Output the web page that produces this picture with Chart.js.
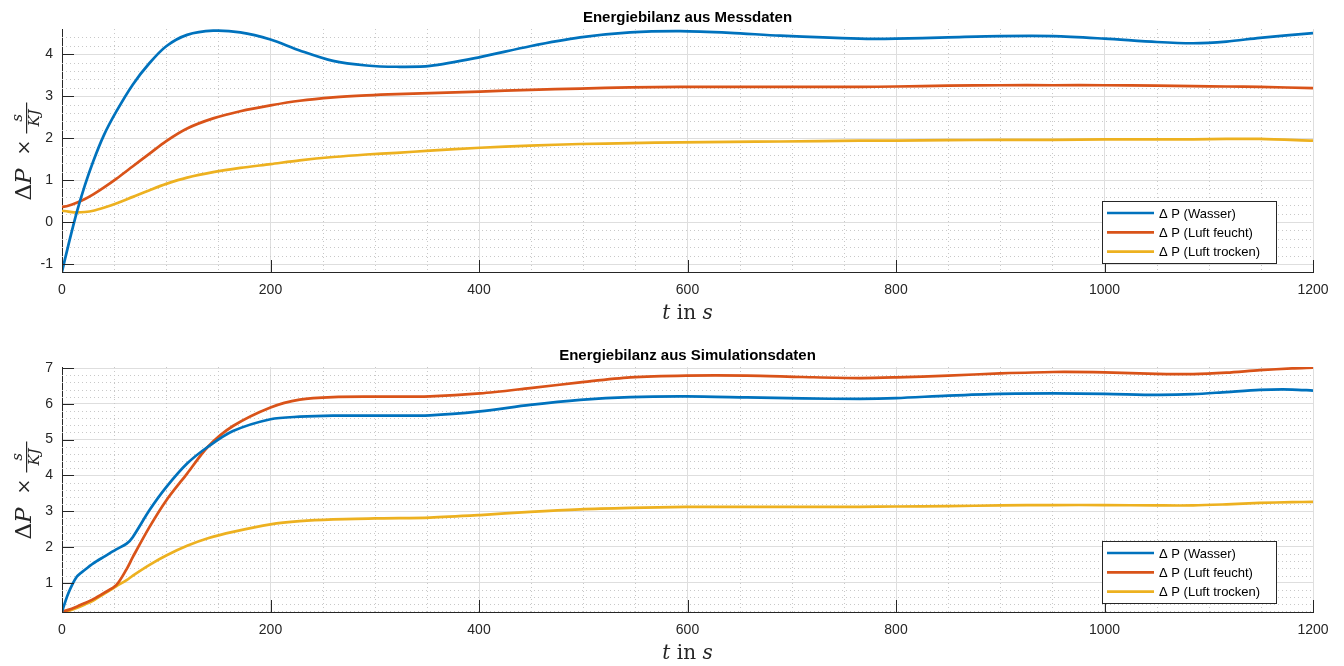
<!DOCTYPE html>
<html>
<head>
<meta charset="utf-8">
<script src="https://cdn.jsdelivr.net/npm/chart.js@4/dist/chart.umd.min.js"></script>
<style>
  html, body { margin: 0; padding: 0; background: #fff; }
  .box { position: absolute; left: 0; width: 1344px; height: 333px; }
</style>
</head>
<body>
<div class="box" style="top:0"><canvas id="chartMess" width="1344" height="333"></canvas></div>
<div class="box" style="top:333px"><canvas id="chartSim" width="1344" height="333"></canvas></div>
<script>
// Messdaten (oben)
const timeMess = [0, 6, 14, 22, 30, 40, 52, 68, 84, 100, 120, 145, 171, 200, 228, 260, 292, 321, 353, 401, 449, 497, 545, 593, 641, 689, 765, 800, 850, 900, 951, 1000, 1050, 1085, 1117, 1149, 1200];
const wasserMess = [-1.18, -0.56, 0.22, 0.88, 1.45, 2.06, 2.63, 3.28, 3.79, 4.19, 4.46, 4.56, 4.52, 4.35, 4.09, 3.84, 3.73, 3.70, 3.72, 3.93, 4.19, 4.40, 4.52, 4.55, 4.51, 4.44, 4.37, 4.37, 4.40, 4.43, 4.43, 4.37, 4.29, 4.26, 4.30, 4.39, 4.50];
const feuchtMess = [0.36, 0.39, 0.46, 0.55, 0.66, 0.82, 1.03, 1.33, 1.63, 1.93, 2.23, 2.47, 2.64, 2.78, 2.89, 2.97, 3.02, 3.05, 3.07, 3.11, 3.15, 3.18, 3.21, 3.22, 3.22, 3.22, 3.22, 3.23, 3.25, 3.26, 3.26, 3.26, 3.25, 3.24, 3.23, 3.22, 3.19];
const trockenMess = [0.27, 0.25, 0.23, 0.24, 0.27, 0.34, 0.44, 0.60, 0.76, 0.91, 1.06, 1.19, 1.29, 1.38, 1.47, 1.55, 1.61, 1.65, 1.70, 1.77, 1.82, 1.86, 1.88, 1.90, 1.91, 1.92, 1.94, 1.94, 1.95, 1.96, 1.96, 1.97, 1.97, 1.97, 1.98, 1.98, 1.94];

// Simulationsdaten (unten)
const timeSim = [0, 6, 14, 22, 30, 40, 52, 62, 68, 84, 100, 120, 140, 164, 200, 228, 260, 305, 353, 401, 449, 497, 545, 599, 657, 710, 765, 800, 850, 900, 951, 1000, 1050, 1085, 1117, 1149, 1180, 1200];
const wasserSim = [0.19, 0.70, 1.16, 1.36, 1.54, 1.72, 1.93, 2.09, 2.28, 3.03, 3.67, 4.33, 4.80, 5.24, 5.57, 5.64, 5.67, 5.67, 5.68, 5.79, 5.97, 6.11, 6.19, 6.21, 6.18, 6.15, 6.14, 6.16, 6.23, 6.28, 6.29, 6.28, 6.25, 6.27, 6.33, 6.39, 6.40, 6.37];
const feuchtSim = [0.19, 0.24, 0.33, 0.43, 0.54, 0.71, 0.93, 1.38, 1.72, 2.56, 3.30, 4.05, 4.80, 5.38, 5.90, 6.12, 6.19, 6.20, 6.21, 6.29, 6.44, 6.60, 6.74, 6.79, 6.79, 6.75, 6.72, 6.74, 6.79, 6.85, 6.89, 6.88, 6.84, 6.83, 6.87, 6.94, 6.99, 7.01];
const trockenSim = [0.17, 0.21, 0.29, 0.39, 0.50, 0.68, 0.90, 1.07, 1.20, 1.50, 1.76, 2.03, 2.24, 2.42, 2.63, 2.72, 2.77, 2.80, 2.82, 2.89, 2.98, 3.05, 3.09, 3.12, 3.12, 3.12, 3.12, 3.13, 3.14, 3.16, 3.17, 3.17, 3.16, 3.16, 3.19, 3.23, 3.25, 3.26];

const seriesLabels = ['\u0394 P (Wasser)', '\u0394 P (Luft feucht)', '\u0394 P (Luft trocken)'];
const seriesColors = ['#0072BD', '#D95319', '#EDB120'];
const xTicks = [0, 200, 400, 600, 800, 1000, 1200];
const yTicksMess = [-1, 0, 1, 2, 3, 4];
const yTicksSim = [1, 2, 3, 4, 5, 6, 7];

const axisColor = '#262626';

// Nebengitter, Achsenstriche, Legende, Titel und Achsenbeschriftungen
const matlabLook = {
    id: 'matlabLook',
    beforeDatasetsDraw(chart, args, opts) {
        const { ctx, chartArea: a, scales: { x, y } } = chart;
        ctx.save();
        ctx.strokeStyle = '#c8c8c8';
        ctx.lineWidth = 1;
        ctx.setLineDash([1, 3]);
        for (let t = x.min; t <= x.max; t += 50) {
            if (t % 200 === 0) continue;
            const px = Math.round(x.getPixelForValue(t)) + 0.5;
            ctx.beginPath(); ctx.moveTo(px, a.top); ctx.lineTo(px, a.bottom); ctx.stroke();
        }
        for (let v = Math.ceil(y.min * 5) / 5; v <= y.max; v += 0.2) {
            const r = Math.round(v * 5) / 5;
            if (Math.abs(r - Math.round(r)) < 1e-6) continue;
            const py = Math.round(y.getPixelForValue(r)) + 0.5;
            ctx.beginPath(); ctx.moveTo(a.left, py); ctx.lineTo(a.right, py); ctx.stroke();
        }
        ctx.restore();
    },
    afterDatasetsDraw(chart, args, opts) {
        const { ctx, chartArea: a, scales: { x, y } } = chart;
        ctx.save();
        // Ticks nach innen
        ctx.strokeStyle = axisColor;
        ctx.lineWidth = 1;
        xTicks.forEach(t => {
            const px = Math.round(x.getPixelForValue(t)) + 0.5;
            ctx.beginPath(); ctx.moveTo(px, a.bottom); ctx.lineTo(px, a.bottom - 12); ctx.stroke();
        });
        opts.yTicks.forEach(v => {
            const py = Math.round(y.getPixelForValue(v)) + 0.5;
            ctx.beginPath(); ctx.moveTo(a.left, py); ctx.lineTo(a.left + 12, py); ctx.stroke();
        });

        // Legende
        const bw = 174, bh = 62;
        const bx = a.right - 37 - bw, by = a.bottom - 9 - bh;
        ctx.fillStyle = '#fff';
        ctx.fillRect(bx, by, bw, bh);
        ctx.strokeStyle = axisColor;
        ctx.strokeRect(bx + 0.5, by + 0.5, bw, bh);
        ctx.font = '13px "Liberation Sans", Arial, sans-serif';
        ctx.textBaseline = 'middle';
        chart.data.datasets.forEach((ds, i) => {
            const ry = by + 12 + i * 19.3;
            ctx.strokeStyle = ds.borderColor;
            ctx.lineWidth = 2.7;
            ctx.beginPath(); ctx.moveTo(bx + 5, ry); ctx.lineTo(bx + 52, ry); ctx.stroke();
            ctx.fillStyle = '#000';
            ctx.fillText(ds.label, bx + 57, ry + 1);
        });

        // Titel
        const cx = (a.left + a.right) / 2;
        ctx.fillStyle = '#000';
        ctx.font = 'bold 15px "Liberation Sans", Arial, sans-serif';
        ctx.textAlign = 'center';
        ctx.textBaseline = 'alphabetic';
        ctx.fillText(opts.title, cx, a.top - 7);

        // x-Achsenbeschriftung: t in s
        ctx.fillStyle = axisColor;
        const serif = '"DejaVu Serif", "Liberation Serif", serif';
        const parts = [['italic 20px ' + serif, 't'], ['20px ' + serif, ' in '], ['italic 20px ' + serif, 's']];
        let total = 0;
        parts.forEach(p => { ctx.font = p[0]; total += ctx.measureText(p[1]).width; });
        let sx = cx - total / 2;
        ctx.textAlign = 'left';
        parts.forEach(p => { ctx.font = p[0]; ctx.fillText(p[1], sx, a.bottom + 47); sx += ctx.measureText(p[1]).width; });

        // y-Achsenbeschriftung: ΔP × s/KJ (gedreht)
        const cy = (a.top + a.bottom) / 2;
        ctx.translate(0, cy);
        ctx.rotate(-Math.PI / 2);
        ctx.font = '23px ' + serif;
        ctx.fillText('\u0394', -50, 31);
        const dw = ctx.measureText('\u0394').width;
        ctx.font = 'italic 23px ' + serif;
        ctx.fillText('P', -50 + dw, 31);
        ctx.font = '19px ' + serif;
        ctx.textAlign = 'center';
        ctx.fillText('\u00d7', 3, 30);
        ctx.fillRect(17, 26, 31, 1.2);
        ctx.font = 'italic 15px ' + serif;
        ctx.fillText('s', 32.5, 22);
        ctx.fillText('KJ', 32.5, 39);
        ctx.restore();
    }
};

function makeChart(id, title, times, wasser, feucht, trocken, yMin, yMax, yTicks, top, bottom) {
    const values = [wasser, feucht, trocken];
    const datasets = values.map((vals, i) => ({
        label: seriesLabels[i],
        data: times.map((t, k) => ({ x: t, y: vals[k] })),
        borderColor: seriesColors[i],
        backgroundColor: seriesColors[i],
        borderWidth: 2.7,
        pointRadius: 0,
        tension: 0.3,
        fill: false
    }));
    const tickFont = { family: '"Liberation Sans", Arial, sans-serif', size: 14 };
    return new Chart(document.getElementById(id).getContext('2d'), {
        type: 'line',
        data: { datasets },
        options: {
            responsive: false,
            animation: false,
            events: [],
            layout: { padding: { left: 0, right: 31, top: top, bottom: 0 } },
            plugins: {
                legend: { display: false },
                tooltip: { enabled: false },
                matlabLook: { title: title, yTicks: yTicks }
            },
            scales: {
                x: {
                    type: 'linear',
                    min: 0,
                    max: 1200,
                    afterBuildTicks: s => { s.ticks = xTicks.map(v => ({ value: v })); },
                    afterFit: s => { s.height = 333 - bottom; },
                    grid: { color: '#dedede', drawTicks: false },
                    border: { display: true, color: axisColor, width: 1 },
                    ticks: { color: axisColor, font: tickFont, padding: 10, maxRotation: 0, callback: v => String(v) }
                },
                y: {
                    type: 'linear',
                    min: yMin,
                    max: yMax,
                    afterBuildTicks: s => { s.ticks = yTicks.map(v => ({ value: v })); },
                    afterFit: s => { s.width = 62; },
                    grid: { color: '#dedede', drawTicks: false },
                    border: { display: true, color: axisColor, width: 1 },
                    ticks: { color: axisColor, font: tickFont, padding: 9, callback: v => String(v) }
                }
            }
        },
        plugins: [matlabLook]
    });
}

makeChart('chartMess', 'Energiebilanz aus Messdaten', timeMess, wasserMess, feuchtMess, trockenMess, -1.19, 4.60, yTicksMess, 29, 272);
makeChart('chartSim', 'Energiebilanz aus Simulationsdaten', timeSim, wasserSim, feuchtSim, trockenSim, 0.18, 7.03, yTicksSim, 34, 279);
</script>
</body>
</html>
